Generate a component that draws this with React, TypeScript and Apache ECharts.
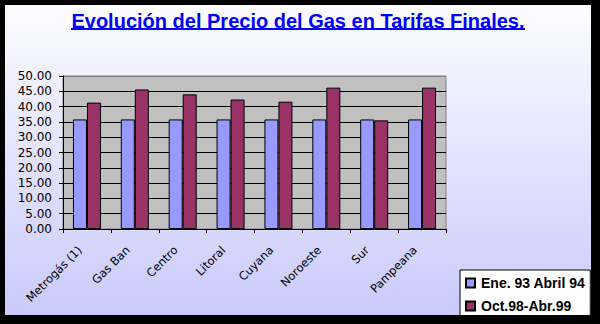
import React, { useEffect, useRef } from "react";
import * as echarts from "echarts";

const categories = ["Metrogás (1)", "Gas Ban", "Centro", "Litoral", "Cuyana", "Noroeste", "Sur", "Pampeana"];
const seriesNames = ["Ene. 93 Abril 94", "Oct.98-Abr.99"];
const ene93 = [35.8, 35.8, 35.8, 35.8, 35.8, 35.8, 35.8, 35.8];
const oct98 = [41.3, 45.6, 44.0, 42.3, 41.6, 46.2, 35.5, 46.2];
const titleText = "Evolución del Precio del Gas en Tarifas Finales.";

export default function App() {
  const ref = useRef<HTMLDivElement>(null);
  useEffect(() => {
    document.body.style.margin = "0";
    const chart = echarts.init(ref.current!, undefined, { renderer: "svg" });
    const splitColors = [...Array(10).fill("#000000"), "#808080"];
    chart.setOption({
      animation: false,
      backgroundColor: "transparent",
      title: {
        text: titleText,
        left: "center",
        top: 1,
        textStyle: {
          fontFamily: "Liberation Sans",
          fontWeight: "bold",
          fontSize: 20,
          color: "#0000FF",
        },
      },
      graphic: [
        {
          type: "line",
          shape: { x1: 66, y1: 24, x2: 520, y2: 24 },
          style: { stroke: "#0000FF", lineWidth: 2 },
        },
      ],
      legend: {
        orient: "vertical",
        left: 455,
        top: 265,
        icon: "rect",
        itemWidth: 9,
        itemHeight: 9,
        itemGap: 9,
        padding: [6, 5, 6, 5],
        backgroundColor: "#FFFFFF",
        borderColor: "#000000",
        borderWidth: 1,
        borderRadius: 0,
        textStyle: {
          fontFamily: "Liberation Sans",
          fontWeight: "bold",
          fontSize: 14,
          color: "#000000",
          padding: [0, 0, 0, 1],
        },
        data: seriesNames,
      },
      grid: {
        left: 58,
        right: 145,
        top: 71,
        bottom: 106,
        show: true,
        backgroundColor: "#C0C0C0",
        borderColor: "#808080",
        borderWidth: 1,
      },
      xAxis: {
        type: "category",
        data: categories,
        axisLine: { lineStyle: { color: "#000000", width: 1 } },
        axisTick: { show: true, alignWithLabel: false, length: 4, lineStyle: { color: "#000000" } },
        axisLabel: {
          interval: 0,
          rotate: 45,
          margin: 12,
          padding: [0, 10, 0, 0],
          fontFamily: "DejaVu Sans",
          fontSize: 11.5,
          color: "#000000",
        },
        splitLine: { show: false },
      },
      yAxis: {
        type: "value",
        min: 0,
        max: 50,
        interval: 5,
        axisLine: { show: true, lineStyle: { color: "#000000", width: 1 } },
        axisTick: { show: true, length: 4, lineStyle: { color: "#000000" } },
        axisLabel: {
          margin: 11,
          fontFamily: "DejaVu Sans",
          fontSize: 12,
          color: "#000000",
          formatter: (v: number) => v.toFixed(2),
        },
        splitLine: { show: true, lineStyle: { color: splitColors, width: 1 } },
      },
      series: [
        {
          name: seriesNames[0],
          type: "bar",
          data: ene93,
          barWidth: 14,
          barGap: "0%",
          itemStyle: { color: "#9999FF", borderColor: "#000000", borderWidth: 1 },
        },
        {
          name: seriesNames[1],
          type: "bar",
          data: oct98,
          barWidth: 14,
          barGap: "0%",
          itemStyle: { color: "#993366", borderColor: "#000000", borderWidth: 1 },
        },
      ],
    });
    return () => chart.dispose();
  }, []);
  return (
    <div style={{ position: "fixed", left: 0, top: 0, width: 600, height: 324, background: "#000000" }}>
      <div
        style={{
          position: "absolute",
          left: 5,
          top: 5,
          width: 586,
          height: 310,
          overflow: "hidden",
          background: "linear-gradient(to bottom, #FCFCFF 0%, #CACAFC 100%)",
        }}
      >
        <div ref={ref} style={{ width: 586, height: 330 }} />
      </div>
    </div>
  );
}
